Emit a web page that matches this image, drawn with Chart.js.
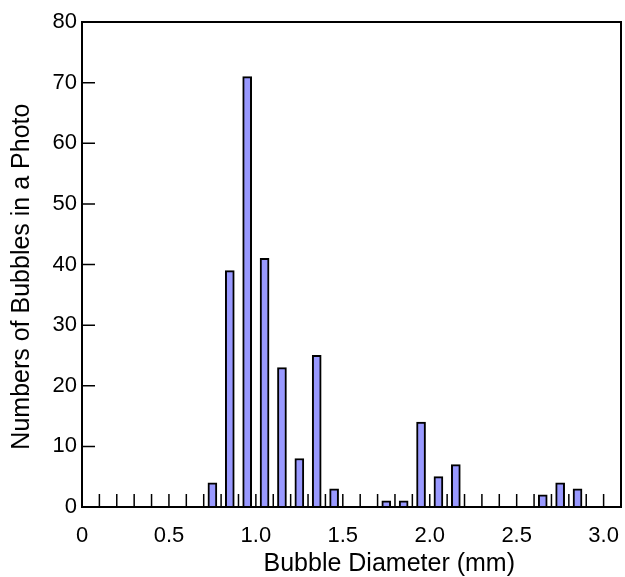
<!DOCTYPE html>
<html>
<head>
<meta charset="utf-8">
<script src="https://cdn.jsdelivr.net/npm/chart.js@4/dist/chart.umd.min.js"></script>
<style>
  html, body { margin: 0; padding: 0; background: #fff; }
  #wrap { width: 625px; height: 577px; }
</style>
</head>
<body>
<div id="wrap"><canvas id="bubbleChart"></canvas></div>
<script>
// bin centres (mm) and counts
const diameters = [0.75, 0.85, 0.95, 1.05, 1.15, 1.25, 1.35, 1.45, 1.75, 1.85, 1.95, 2.05, 2.15, 2.65, 2.75, 2.85];
const counts = [4, 39, 71, 41, 23, 8, 25, 3, 1, 1, 14, 5, 7, 2, 4, 3];
const xTickLabels = ['0', '0.5', '1.0', '1.5', '2.0', '2.5', '3.0'];
const yTickLabels = ['0', '10', '20', '30', '40', '50', '60', '70', '80'];
const xTitle = 'Bubble Diameter (mm)';
const yTitle = 'Numbers of Bubbles in a Photo';

const fontFamily = '"Liberation Sans", Arial, Helvetica, sans-serif';

// ticks drawn inside the box, the frame, and the two axis titles
const frameAndTicks = {
    id: 'frameAndTicks',
    beforeDatasetsDraw(chart) {
        const { ctx, chartArea: a, scales: { x, y } } = chart;
        ctx.save();
        ctx.strokeStyle = '#000';
        ctx.lineWidth = 1.5;
        ctx.beginPath();
        x.ticks.forEach(t => {
            if (t.value <= x.min + 1e-6 || t.value >= x.max - 1e-6) return;
            const px = x.getPixelForValue(t.value);
            ctx.moveTo(px, a.bottom);
            ctx.lineTo(px, a.bottom - 13);
        });
        y.ticks.forEach(t => {
            if (t.value <= y.min || t.value >= y.max) return;
            const py = y.getPixelForValue(t.value);
            ctx.moveTo(a.left, py);
            ctx.lineTo(a.left + 13, py);
        });
        ctx.stroke();
        ctx.restore();
    },
    afterDatasetsDraw(chart) {
        const { ctx, chartArea: a } = chart;
        ctx.save();
        ctx.strokeStyle = '#000';
        ctx.lineWidth = 2;
        ctx.strokeRect(a.left, a.top, a.right - a.left, a.bottom - a.top);

        ctx.fillStyle = '#000';
        ctx.font = '25px ' + fontFamily;
        ctx.textAlign = 'center';
        ctx.textBaseline = 'middle';
        ctx.fillText(xTitle, a.left + (a.right - a.left) * 0.57, a.bottom + 57);
        ctx.translate(22, a.top + (a.bottom - a.top) * 0.525);
        ctx.rotate(-Math.PI / 2);
        ctx.fillText(yTitle, 0, 0);
        ctx.restore();
    }
};

const canvas = document.getElementById('bubbleChart');
new Chart(canvas, {
    type: 'bar',
    data: {
        datasets: [{
            data: diameters.map((d, i) => ({ x: d, y: counts[i] })),
            backgroundColor: '#9999ff',
            borderColor: '#000',
            borderWidth: 2,
            borderSkipped: 'start',
            barThickness: 9
        }]
    },
    options: {
        responsive: true,
        maintainAspectRatio: false,
        animation: false,
        layout: { padding: { top: 22, right: 4, left: 0, bottom: 0 } },
        plugins: {
            legend: { display: false },
            tooltip: { enabled: false }
        },
        scales: {
            x: {
                type: 'linear',
                min: 0,
                max: 3.1,
                offset: false,
                grid: { display: false, offset: false, drawTicks: false },
                border: { display: false },
                ticks: {
                    stepSize: 0.1,
                    autoSkip: false,
                    maxRotation: 0,
                    padding: 16,
                    color: '#000',
                    font: { family: fontFamily, size: 22 },
                    callback: (value) => {
                        const lab = xTickLabels.find(l => Math.abs(parseFloat(l) - value) < 1e-6);
                        return lab === undefined ? '' : lab;
                    }
                },
                afterFit: (scale) => {
                    scale.height = 70;
                    scale.paddingLeft = 0;
                    scale.paddingRight = 0;
                }
            },
            y: {
                min: 0,
                max: 80,
                grid: { display: false, drawTicks: false },
                border: { display: false },
                ticks: {
                    stepSize: 10,
                    padding: 5,
                    color: '#000',
                    font: { family: fontFamily, size: 22 },
                    callback: (value) => yTickLabels.find(l => Number(l) === value) ?? ''
                },
                afterFit: (scale) => {
                    scale.width = 82;
                    scale.paddingTop = 0;
                    scale.paddingBottom = 0;
                }
            }
        }
    },
    plugins: [frameAndTicks]
});
</script>
</body>
</html>
